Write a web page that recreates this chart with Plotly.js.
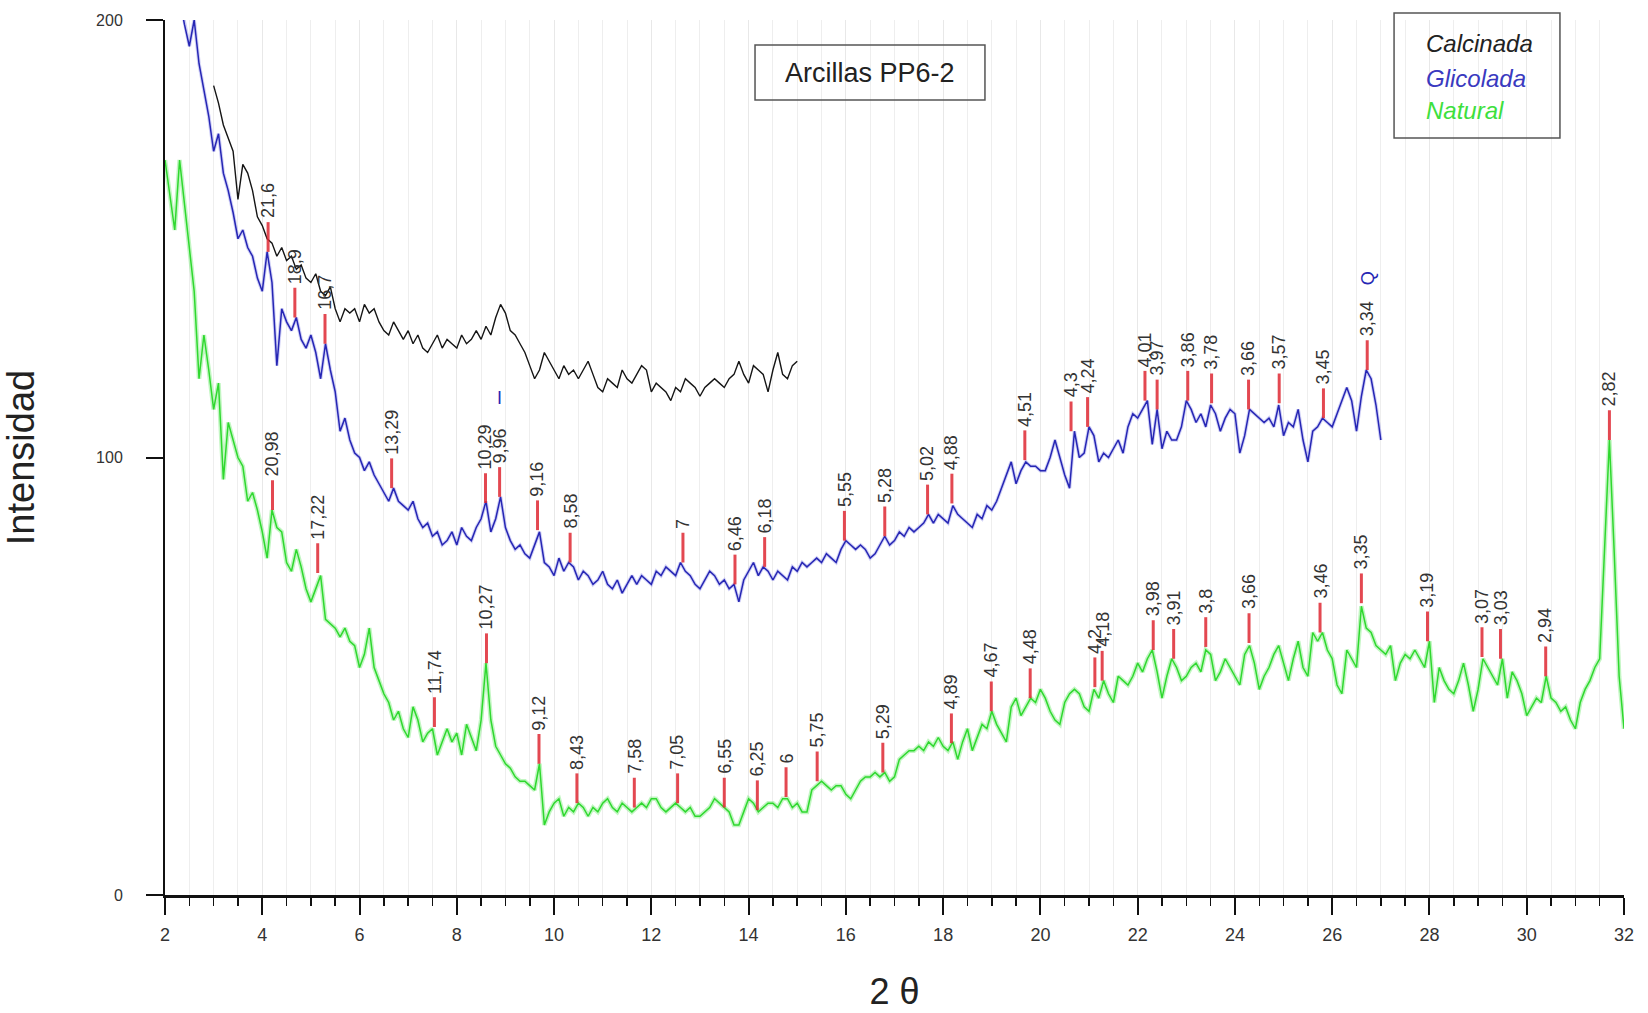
<!DOCTYPE html>
<html>
<head>
<meta charset="utf-8">
<script src="https://cdn.plot.ly/plotly-3.0.1.min.js"></script>
<style>html,body{margin:0;padding:0;background:#fff;}#chart{width:1648px;height:1013px;}</style>
</head>
<body>
<div id="chart"></div>
<script>
// ---------------- DATA ----------------
const SCAN_STEP = 0.1;

// Natural (green), 2θ from 2.0 to 32.0
const natStart = 2.0;
const natY = [
168,160,152,168,158,148,138,118,128,120,
111,117,95,108,104,100,98,90,92,88,
83,77,88,84,83,76,74,79,75,70,
67,70,73,63,62,61,59,61,58,57,
52,55,61,52,49,46,44,40,42,38,
36,43,40,35,37,38,32,35,38,35,
37,32,39,36,33,40,53,40,34,32,
30,29,27,26,26,25,24,30,16,19,
21,22,18,20,19,21,20,18,20,19,
21,22,20,19,21,20,19,20,21,20,
22,22,20,19,20,21,20,19,20,18,
18,19,20,22,21,20,19,16,16,19,
22,21,19,20,21,21,20,22,22,20,
21,19,19,24,25,26,25,24,25,25,
23,22,24,26,27,27,28,27,28,26,
27,31,32,33,33,34,33,35,34,36,
34,33,35,31,35,38,33,36,39,38,
42,39,37,35,43,45,41,43,45,44,
47,45,42,40,39,44,46,47,46,43,
42,47,45,49,46,44,50,49,48,50,
53,51,54,56,51,45,50,54,52,49,
50,52,53,51,56,55,49,51,54,52,
50,48,55,57,53,47,50,52,55,57,
53,49,54,58,52,50,60,58,60,56,
54,48,46,56,54,52,66,61,60,57,
56,55,57,49,53,55,54,56,54,52,
58,44,52,49,47,46,49,53,48,42,
47,54,52,50,48,54,45,51,49,46,
41,43,45,44,50,45,44,42,43,40,
38,44,47,49,52,54,80,104,78,50,
38
];

// Glicolada (blue), 2θ from 2.3 to 27.0
const glyStart = 2.3;
const glyY = [
205,199,194,200,190,184,178,
170,174,165,161,156,150,152,148,146,141,
138,147,140,121,134,131,129,132,127,125,
128,124,118,126,120,115,106,109,104,101,
100,97,99,96,94,92,90,93,90,89,
88,90,86,84,85,82,83,80,81,83,
80,84,82,81,84,86,90,83,86,91,
84,81,79,80,78,77,80,83,76,75,
73,77,74,76,75,72,74,73,71,72,
74,71,70,72,69,71,73,71,73,72,
71,74,73,75,74,73,76,74,73,71,
70,72,74,73,71,72,70,71,67,72,
74,76,73,75,74,72,74,73,72,75,
74,76,75,76,77,76,78,77,76,79,
81,80,79,80,79,77,78,80,82,80,
81,83,82,84,83,84,85,87,85,87,
86,85,89,87,86,85,84,87,86,89,
88,90,93,96,99,94,97,99,98,98,
97,97,100,104,100,96,93,106,100,101,
107,105,99,101,100,102,104,101,107,110,
109,111,113,103,111,102,106,104,104,107,
113,111,108,110,107,112,110,106,109,111,
110,101,105,111,110,109,108,109,107,112,
105,108,107,111,104,99,106,107,109,108,
107,110,113,116,113,106,114,120,118,112,
104
];

// Calcinada (black), 2θ from 3.0 to 15.0
const calStart = 3.0;
const calY = [
185,181,176,173,170,159,167,165,161,155,
153,150,149,146,148,145,146,143,144,141,
140,142,138,137,139,134,131,134,133,134,
131,135,133,134,131,129,128,131,129,127,
129,126,128,125,124,126,128,125,127,126,
125,128,126,127,129,127,130,128,132,135,
133,129,128,126,124,121,118,120,124,122,
120,118,121,119,120,118,120,122,119,116,
115,118,117,116,120,118,117,119,121,120,
115,117,116,115,113,116,115,118,117,116,
114,116,117,118,117,116,118,119,122,119,
117,121,120,119,115,120,124,119,118,121,
122
];

// Peak labels (d-spacings) — Glicolada
const glyPeakX = [4.12,4.67,5.29,6.66,8.59,8.88,9.66,10.33,12.65,13.72,14.33,15.97,16.80,17.68,18.18,19.68,20.63,20.97,22.15,22.40,23.03,23.52,24.28,24.91,25.82,26.72];
const glyPeakY = [147,132,126,93,89.6,91,83.4,76,76,71,75,81,82,87,89.5,99.4,106,107,113,111,113,112.4,111,112.4,109,120];
const glyPeakLabel = ["21,6","18,9","16,7","13,29","10,29","9,96","9,16","8,58","7","6,46","6,18","5,55","5,28","5,02","4,88","4,51","4,3","4,24","4,01","3,97","3,86","3,78","3,66","3,57","3,45","3,34"];

// Peak labels (d-spacings) — Natural
const natPeakX = [4.21,5.14,7.54,8.61,9.69,10.47,11.65,12.54,13.50,14.18,14.77,15.41,16.76,18.17,18.99,19.79,21.12,21.27,22.32,22.74,23.40,24.29,25.75,26.60,27.96,29.08,29.46,30.39,31.70];
const natPeakY = [88,73.6,38.4,53,30,21,20,21,20,19.4,22.4,26,28,34.7,42,45,47.5,49,56,54,56.7,57.6,60,66.7,58,54.4,54,50,104];
const natPeakLabel = ["20,98","17,22","11,74","10,27","9,12","8,43","7,58","7,05","6,55","6,25","6","5,75","5,29","4,89","4,67","4,48","4,2","4,18","3,98","3,91","3,8","3,66","3,46","3,35","3,19","3,07","3,03","2,94","2,82"];

// Mineral marks on Glicolada
const mineralX = [8.87, 26.74];
const mineralY = [113.5, 141];
const mineralLabel = ["I", "Q"];

const seriesNames = ["Calcinada", "Glicolada", "Natural"];
const yTickVals = [0, 100, 200];
const chartTitle = "Arcillas PP6-2";
const xTitle = "2 θ";
const yTitle = "Intensidad";

// ---------------- STYLE ----------------
const FONT = "Liberation Sans, Arial, sans-serif";
const C_CAL = "#151515", C_GLY = "#2626b4", C_NAT = "#2fd82f";
const C_LEG = ["#222222", "#3a3ac0", "#3de03d"];
const RED_LEN = 6.8, LABEL_GAP = 0.4;

function grid(start, ys) { return ys.map((_, i) => +(start + i * SCAN_STEP).toFixed(2)); }

const natX = grid(natStart, natY), glyX = grid(glyStart, glyY), calX = grid(calStart, calY);

function redSegs(px, py) {
  const x = [], y = [];
  px.forEach((p, i) => { x.push(p, p, null); y.push(py[i], py[i] + RED_LEN, null); });
  return {x, y};
}
const rg = redSegs(glyPeakX, glyPeakY), rn = redSegs(natPeakX, natPeakY);

const traces = [
  {x: natX, y: natY, mode: 'lines', line: {color: 'rgba(120,235,120,0.45)', width: 4.5}, hoverinfo: 'skip'},
  {x: natX, y: natY, name: seriesNames[2], mode: 'lines', line: {color: C_NAT, width: 1.5}},
  {x: glyX, y: glyY, mode: 'lines', line: {color: 'rgba(120,120,230,0.35)', width: 3.5}, hoverinfo: 'skip'},
  {x: glyX, y: glyY, name: seriesNames[1], mode: 'lines', line: {color: C_GLY, width: 1.5}},
  {x: calX, y: calY, name: seriesNames[0], mode: 'lines', line: {color: C_CAL, width: 1.4}},
  {x: rg.x.concat(rn.x), y: rg.y.concat(rn.y), mode: 'lines', line: {color: 'rgba(222,40,50,0.85)', width: 3}, hoverinfo: 'skip'}
];

const annotations = [];
function addLabels(px, py, labs) {
  px.forEach((p, i) => annotations.push({
    x: p, y: py[i] + RED_LEN + LABEL_GAP, xref: 'x', yref: 'y', text: labs[i], showarrow: false,
    textangle: -90, xanchor: 'center', yanchor: 'bottom', font: {family: FONT, size: 18, color: '#333'}
  }));
}
addLabels(glyPeakX, glyPeakY, glyPeakLabel);
addLabels(natPeakX, natPeakY, natPeakLabel);
mineralX.forEach((m, i) => annotations.push({
  x: m, y: mineralY[i], xref: 'x', yref: 'y', text: mineralLabel[i], showarrow: false,
  textangle: i === 1 ? -90 : 0, xanchor: 'center', yanchor: 'middle', font: {family: FONT, size: 18, color: C_GLY}
}));
// Title box text
annotations.push({x: 0.483, y: 0.94, xref: 'paper', yref: 'paper', text: chartTitle, showarrow: false,
  xanchor: 'center', yanchor: 'middle', font: {family: FONT, size: 27, color: '#222'}});
// Legend texts
const legY = [0.9737, 0.9337, 0.8971];
seriesNames.forEach((n, i) => annotations.push({
  x: 0.8629, y: legY[i], xref: 'paper', yref: 'paper', text: '<i>' + n + '</i>', showarrow: false,
  xanchor: 'left', yanchor: 'middle', font: {family: FONT, size: 24, color: C_LEG[i]}
}));

const shapes = [
  {type: 'rect', xref: 'paper', yref: 'paper', x0: 0.4044, x1: 0.562, y0: 0.9086, y1: 0.9714,
   line: {color: '#555', width: 1.5}, fillcolor: 'rgba(255,255,255,0)', layer: 'above'},
  {type: 'rect', xref: 'paper', yref: 'paper', x0: 0.8424, x1: 0.9561, y0: 0.8651, y1: 1.008,
   line: {color: '#555', width: 1.5}, fillcolor: 'rgba(255,255,255,0)', layer: 'above'}
];

const layout = {
  width: 1648, height: 1013,
  margin: {l: 165, r: 24, t: 20, b: 118},
  paper_bgcolor: 'white', plot_bgcolor: 'white',
  font: {family: FONT, color: '#222'},
  showlegend: false,
  xaxis: {
    range: [2, 32], tick0: 2, dtick: 2, ticks: 'outside', ticklen: 17, tickwidth: 2, tickcolor: '#111',
    showline: true, linecolor: '#111', linewidth: 3, showgrid: true, gridcolor: '#e8e8e8', gridwidth: 1,
    zeroline: false, tickfont: {family: FONT, size: 18, color: '#333'}, ticklabelstandoff: 4,
    title: {text: xTitle, font: {family: FONT, size: 36, color: '#222'}, standoff: 36},
    minor: {dtick: 0.5, tick0: 2, ticks: 'outside', ticklen: 8, tickwidth: 1.5, tickcolor: '#111',
            showgrid: true, gridcolor: '#eeeeee', gridwidth: 1}
  },
  yaxis: {
    range: [0, 200], tickvals: yTickVals, ticks: 'outside', ticklen: 17, tickwidth: 2, tickcolor: '#111',
    showline: true, linecolor: '#111', linewidth: 2, showgrid: false, zeroline: false,
    tickfont: {family: FONT, size: 16, color: '#333'}, ticklabelstandoff: 20, automargin: true,
    title: {text: yTitle, font: {family: FONT, size: 38, color: '#222'}, standoff: 50}
  },
  shapes: shapes,
  annotations: annotations
};

Plotly.newPlot('chart', traces, layout, {displayModeBar: false, staticPlot: true});
</script>
</body>
</html>
